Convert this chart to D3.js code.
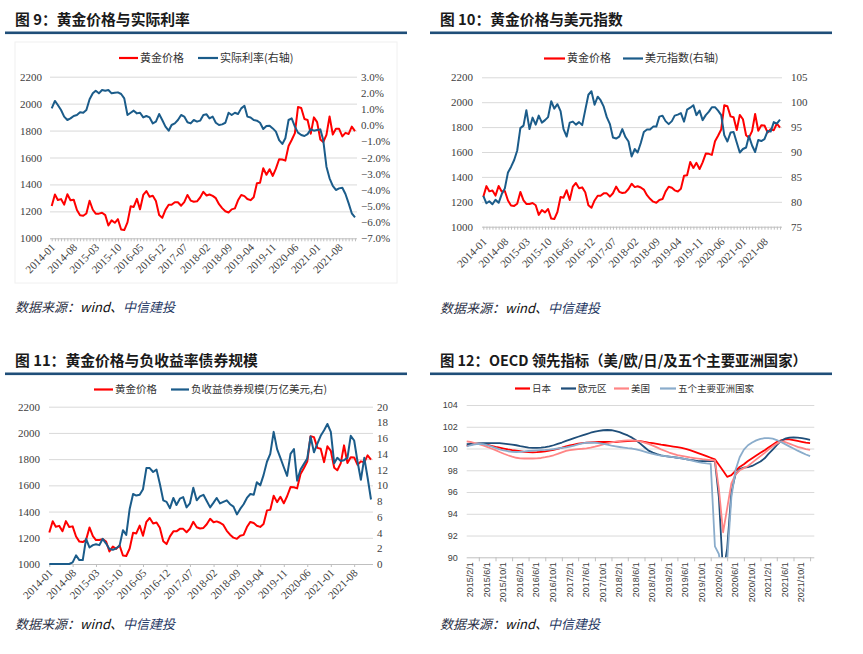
<!DOCTYPE html>
<html><head><meta charset="utf-8">
<script src="https://cdn.jsdelivr.net/npm/d3@7"></script>
<style>body{margin:0;background:#fff}svg{display:block}</style>
</head><body>
<svg id="c" width="863" height="654"></svg>
<script>
// ---------------- DATA ----------------
const monthTicks = ["2014-01","2014-08","2015-03","2015-10","2016-05","2016-12","2017-07","2018-02","2018-09","2019-04","2019-11","2020-06","2021-01","2021-08"];
const leftTicks = [1000,1200,1400,1600,1800,2000,2200];
const rateTicks = [-7,-6,-5,-4,-3,-2,-1,0,1,2,3];
const dxyTicks = [75,80,85,90,95,100,105];
const debtTicks = [0,2,4,6,8,10,12,14,16,18,20];
const oecdTicks = ["2015/2/1","2015/6/1","2015/10/1","2016/2/1","2016/6/1","2016/10/1","2017/2/1","2017/6/1","2017/10/1","2018/2/1","2018/6/1","2018/10/1","2019/2/1","2019/6/1","2019/10/1","2020/2/1","2020/6/1","2020/10/1","2021/2/1","2021/6/1","2021/10/1"];
const oecdYTicks = [90,92,94,96,98,100,102,104];

// monthly, 2014-01 .. 2022-01
const gold = [
1240,1326,1284,1291,1250,1327,1282,1287,1210,1171,1167,1184,
1279,1212,1183,1183,1190,1172,1095,1133,1115,1142,1065,1061,
1118,1238,1233,1293,1215,1322,1351,1309,1316,1277,1173,1152,
1211,1249,1249,1268,1268,1242,1269,1322,1280,1271,1275,1303,
1345,1318,1325,1315,1298,1253,1224,1201,1192,1215,1222,1282,
1321,1313,1292,1283,1305,1409,1413,1520,1472,1513,1463,1517,
1587,1585,1577,1686,1730,1781,1975,1968,1886,1879,1777,1898,
1863,1734,1715,1768,1905,1771,1814,1813,1757,1783,1775,1829,
1796];
const realRate = [
1.04,1.5,1.25,0.94,0.53,0.32,0.42,0.57,0.63,0.8,0.77,0.94,
1.6,1.97,2.13,1.97,2.18,2.13,2.18,1.97,2.0,2.03,1.93,1.66,
0.63,0.77,0.9,0.73,0.77,0.48,0.57,0.48,0.11,0.22,0.69,0.32,
-0.09,-0.34,0.01,0.11,0.32,0.63,0.53,0.18,0.11,0.32,0.22,0.28,
0.63,0.67,0.42,0.53,0.15,0.01,0.05,0.15,0.77,0.63,0.77,0.69,
1.04,1.2,0.53,0.48,0.32,0.28,0.15,-0.24,-0.05,-0.03,-0.2,-0.4,
-0.92,-1.16,-0.81,0.32,0.42,-0.09,-0.46,-0.61,-0.67,-0.55,-0.26,-0.34,
-0.3,-0.26,-0.92,-2.57,-3.29,-3.76,-4.01,-3.91,-3.87,-4.26,-4.84,-5.45,
-5.7];
const dxy = [
81.2,79.7,80.1,79.5,80.4,79.8,81.5,82.7,85.9,87.0,88.4,90.3,
94.8,95.3,98.4,94.6,96.9,95.5,97.3,95.9,96.4,97.0,100.2,98.7,
99.6,98.2,94.6,93.1,95.9,96.1,95.5,96.0,95.4,98.4,101.5,102.2,
99.5,101.1,100.4,99.1,97.0,95.6,92.9,92.7,93.1,94.6,93.0,92.1,
89.1,90.6,89.9,91.8,94.0,94.5,94.5,95.1,95.1,97.1,97.3,96.2,
95.6,96.2,97.3,97.5,97.8,96.1,98.5,98.9,99.4,97.4,98.3,96.4,
97.4,98.1,99.0,99.0,98.3,97.4,93.4,92.1,93.9,94.0,91.9,89.9,
90.6,90.9,93.2,91.3,90.0,92.4,92.2,92.6,94.2,94.1,96.0,95.7,
96.5];
const negDebt = [
0,0,0,0,0,0,0,0.2,1.1,0.5,0.5,3.2,
2.1,2.4,2.5,2.4,3.2,2.6,1.9,1.8,2.0,2.3,4.3,3.7,
7.0,8.9,8.7,8.8,9.5,12.2,12.2,11.7,12.0,10.2,8.1,7.9,
7.1,8.4,7.5,8.3,8.5,7.2,7.7,9.7,8.1,8.6,8.8,8.0,
7.2,7.8,8.4,7.7,7.9,8.1,7.6,7.3,6.3,7.0,7.6,8.4,
8.9,8.8,10.4,10.0,11.3,13.0,14.0,16.8,14.6,13.5,12.3,11.2,
14.0,14.6,10.6,12.0,12.7,13.4,16.2,14.2,15.3,16.3,17.0,17.8,
16.8,12.8,13.5,13.1,13.2,13.5,16.3,15.7,13.0,10.7,13.5,11.0,
8.2];

// monthly, 2015-02 .. 2022-01
const japan = [
100.25,100.35,100.42,100.45,100.42,100.35,100.25,100.15,100.08,100.0,99.92,99.85,
99.8,99.75,99.7,99.67,99.65,99.66,99.7,99.74,99.8,99.88,99.97,100.08,
100.2,100.28,100.36,100.44,100.5,100.54,100.57,100.59,100.6,100.6,100.6,100.6,
100.6,100.63,100.66,100.68,100.7,100.7,100.68,100.62,100.55,100.5,100.43,100.36,
100.3,100.24,100.18,100.12,100.05,99.96,99.85,99.72,99.58,99.44,99.3,99.15,
99.0,98.5,97.95,97.4,97.55,97.95,98.3,98.55,98.85,99.1,99.35,99.6,
99.85,100.1,100.35,100.6,100.75,100.85,100.85,100.78,100.7,100.62,100.55,100.5];
const euro = [
100.4,100.42,100.45,100.48,100.5,100.5,100.5,100.5,100.5,100.45,100.4,100.35,
100.3,100.22,100.15,100.08,100.05,100.05,100.08,100.13,100.2,100.3,100.42,100.55,
100.7,100.82,100.95,101.08,101.2,101.32,101.45,101.55,101.62,101.68,101.7,101.68,
101.6,101.5,101.35,101.2,101.0,100.75,100.45,100.12,99.8,99.62,99.48,99.38,
99.3,99.25,99.2,99.15,99.1,99.02,98.95,98.9,98.85,98.85,98.85,98.85,
98.85,95.5,88.5,90.8,96.0,97.6,98.1,98.25,98.3,98.4,98.6,98.8,
99.1,99.5,99.9,100.3,100.7,100.9,101.0,101.02,101.0,100.95,100.88,100.8];
const us = [
100.65,100.6,100.5,100.4,100.28,100.15,100.0,99.85,99.68,99.52,99.38,99.25,
99.15,99.1,99.08,99.08,99.08,99.1,99.13,99.2,99.28,99.38,99.5,99.65,
99.78,99.85,99.9,99.95,99.98,100.02,100.08,100.17,100.27,100.38,100.48,100.57,
100.63,100.68,100.72,100.74,100.75,100.72,100.65,100.55,100.42,100.27,100.1,99.92,
99.77,99.63,99.5,99.4,99.32,99.25,99.18,99.12,99.07,99.02,98.98,98.94,
98.9,96.3,92.3,94.5,96.8,97.6,98.0,98.2,98.4,98.7,99.0,99.3,
99.6,99.9,100.2,100.45,100.65,100.6,100.45,100.3,100.15,100.05,99.95,99.87];
const asia = [
100.2,100.3,100.38,100.42,100.4,100.32,100.2,100.05,99.92,99.82,99.75,99.7,
99.68,99.7,99.73,99.77,99.8,99.83,99.85,99.87,99.9,99.95,100.0,100.05,
100.1,100.18,100.27,100.38,100.48,100.53,100.55,100.53,100.5,100.42,100.35,100.27,
100.2,100.14,100.08,100.03,100.0,99.93,99.83,99.72,99.6,99.5,99.42,99.35,
99.3,99.25,99.2,99.15,99.1,99.02,98.93,98.83,98.75,98.68,98.63,98.6,
91.0,90.3,87.5,89.7,95.5,98.0,99.2,99.9,100.3,100.55,100.75,100.88,
100.95,100.95,100.9,100.78,100.6,100.4,100.2,100.0,99.8,99.62,99.45,99.3];

// ---------------- DRAWING ----------------
const goldMonths = d3.timeMonth.range(new Date(2014,0,1), new Date(2022,1,1));
const oecdMonths = d3.timeMonth.range(new Date(2015,1,1), new Date(2022,1,1));
const parseM = d3.timeParse("%Y-%m");
const tickDates = monthTicks.map(parseM);

const svg = d3.select("#c");
svg.append("rect").attr("width",863).attr("height",654).attr("fill","#fff");

const SERIF = "'Liberation Serif','Times New Roman',serif";
const CJK = "'Noto Sans CJK SC','Noto Sans',sans-serif";
const SANS = "'Liberation Sans',Arial,sans-serif";
const RED = "#ff0000", BLUE = "#1b5c8a";

function title(x, y, text, targetW, lx0, lx1, ly){
  const t = svg.append("text").attr("x",x).attr("y",y).attr("font-family",CJK).attr("font-size",15)
    .attr("font-weight",700).attr("fill","#1a1a1a").text(text);
  const w = t.node().getComputedTextLength();
  if (w > 0) t.attr("font-size", Math.min(16, 15*targetW/w));
  svg.append("rect").attr("x",lx0).attr("y",ly).attr("width",lx1-lx0).attr("height",2.6).attr("fill","#1f4e79");
}
function source(x, y){
  const t = svg.append("text").attr("x",x).attr("y",y).attr("font-family",CJK).attr("font-size",13)
    .attr("font-style","italic");
  t.append("tspan").attr("fill","#2a2f45").text("数据来源：");
  t.append("tspan").attr("fill","#111").text("wind、");
  t.append("tspan").attr("fill","#1f3864").text("中信建投");
}
function legend(items, y, fs){
  items.forEach(it=>{
    svg.append("line").attr("x1",it.x).attr("x2",it.x+it.w).attr("y1",y).attr("y2",y)
      .attr("stroke",it.color).attr("stroke-width",2.2);
    svg.append("text").attr("x",it.x+it.w+2).attr("y",y).attr("dy","0.36em")
      .attr("font-family",CJK).attr("font-size",fs).attr("fill","#333").text(it.label);
  });
}

function dual(cfg){
  const g = svg.append("g");
  const x = d3.scaleTime().domain([goldMonths[0], goldMonths[goldMonths.length-1]]).range([cfg.x0,cfg.x1]);
  const yL = d3.scaleLinear().domain([1000,2200]).range([cfg.yb,cfg.yt]);
  const yR = d3.scaleLinear().domain(cfg.rDomain).range([cfg.yb,cfg.yt]);
  const grid = g.append("g").attr("transform",`translate(${cfg.gx0},0)`)
    .call(d3.axisLeft(yL).tickValues(leftTicks).tickSize(-(cfg.gx1-cfg.gx0)).tickFormat(""));
  grid.select(".domain").remove();
  grid.selectAll(".tick line").attr("stroke",d=>d===1000?"#bfbfbf":"#d9d9d9");
  const xt = g.append("g").attr("transform",`translate(0,${cfg.yb})`)
    .call(d3.axisBottom(x).tickValues(cfg.minor ? goldMonths : tickDates).tickSize(3).tickFormat(""));
  xt.select(".domain").remove();
  xt.selectAll("line").attr("stroke","#bfbfbf");
  const xl = g.append("g").attr("transform",`translate(0,${cfg.yb})`)
    .call(d3.axisBottom(x).tickValues(tickDates).tickSize(0).tickFormat((d,i)=>monthTicks[i]));
  xl.select(".domain").remove();
  xl.selectAll("text").attr("x",0).attr("y",0).attr("dy","0.35em").attr("text-anchor","end")
    .attr("transform",`translate(${cfg.tx},${cfg.ty}) rotate(-45)`)
    .attr("font-family",SERIF).attr("font-size",11).attr("fill","#404040");
  const la = g.append("g").attr("transform",`translate(${cfg.lLab},0)`)
    .call(d3.axisLeft(yL).tickValues(leftTicks).tickSize(0).tickPadding(0).tickFormat(d3.format("d")));
  la.select(".domain").remove();
  la.selectAll("text").attr("font-family",SERIF).attr("font-size",11).attr("fill","#404040");
  const ra = g.append("g").attr("transform",`translate(${cfg.rLab},0)`)
    .call(d3.axisRight(yR).tickValues(cfg.rTicks).tickSize(0).tickPadding(0).tickFormat(cfg.rFmt));
  ra.select(".domain").remove();
  ra.selectAll("text").attr("font-family",SERIF).attr("font-size",11).attr("fill","#404040");
  g.append("path").datum(gold)
    .attr("d", d3.line().x((d,i)=>x(goldMonths[i])).y(d=>yL(d)))
    .attr("fill","none").attr("stroke",RED).attr("stroke-width",2).attr("stroke-linejoin","round");
  g.append("path").datum(cfg.series)
    .attr("d", d3.line().x((d,i)=>x(goldMonths[i])).y(d=>yR(d)))
    .attr("fill","none").attr("stroke",BLUE).attr("stroke-width",2).attr("stroke-linejoin","round");
}

// Panel 1
svg.append("rect").attr("x",15).attr("y",42).attr("width",382).attr("height",241)
  .attr("fill","none").attr("stroke","#f0f0f0");
title(15, 25, "图 9：黄金价格与实际利率", 175, 5, 407, 31.5);
legend([{x:119,w:19,color:RED,label:"黄金价格"},{x:198,w:20,color:BLUE,label:"实际利率(右轴)"}], 58, 11);
dual({x0:51.7,x1:355,yt:76.7,yb:238.3,gx0:50,gx1:357,lLab:42,rLab:361,
  rDomain:[-7,3],rTicks:rateTicks,rFmt:d=>(d<0?"−":"")+Math.abs(d).toFixed(1)+"%",
  series:realRate,minor:true,tx:1,ty:7});
source(15, 312);

// Panel 2
title(440, 25, "图 10：黄金价格与美元指数", 183, 430, 832, 31.5);
legend([{x:544,w:21,color:RED,label:"黄金价格"},{x:623,w:20,color:BLUE,label:"美元指数(右轴)"}], 58.5, 11);
dual({x0:483.3,x1:780,yt:77.3,yb:226.7,gx0:482,gx1:782,lLab:473,rLab:791,
  rDomain:[75,105],rTicks:dxyTicks,rFmt:d3.format("d"),
  series:dxy,minor:true,tx:1,ty:13});
source(440, 313);

// Panel 3
title(15, 366, "图 11：黄金价格与负收益率债券规模", 243, 5, 407, 372.5);
legend([{x:94,w:19,color:RED,label:"黄金价格"},{x:171,w:18,color:BLUE,label:"负收益债券规模(万亿美元,右)"}], 389.5, 10.5);
dual({x0:49.3,x1:371,yt:406.7,yb:564,gx0:49,gx1:373,lLab:40,rLab:377,
  rDomain:[0,20],rTicks:debtTicks,rFmt:d3.format("d"),
  series:negDebt,minor:false,tx:1,ty:7});
source(15, 629);

// Panel 4
title(440, 366, "图 12：OECD 领先指标（美/欧/日/及五个主要亚洲国家）", 367, 430, 832, 372.5);
legend([{x:515,w:15,color:"#ff0000",label:"日本"},{x:561,w:15,color:"#1f4e79",label:"欧元区"},
        {x:614,w:15,color:"#ff8585",label:"美国"},{x:660,w:16,color:"#8aaccb",label:"五个主要亚洲国家"}], 388.5, 9.5);
(function(){
  const g = svg.append("g");
  const x = d3.scaleTime().domain([new Date(2015,1,1), new Date(2022,1,1)]).range([466.7,814.3]);
  const y = d3.scaleLinear().domain([90,104]).range([557.3,405]);
  const grid = g.append("g").attr("transform","translate(466.7,0)")
    .call(d3.axisLeft(y).tickValues(oecdYTicks).tickSize(-(814.3-466.7)).tickFormat(""));
  grid.select(".domain").remove();
  grid.selectAll(".tick line").attr("stroke",d=>d===90?"#bfbfbf":"#d9d9d9");
  const tks = d3.timeMonth.every(4).range(new Date(2015,1,1), new Date(2022,1,2));
  const xt = g.append("g").attr("transform","translate(0,557.3)")
    .call(d3.axisBottom(x).tickValues(tks).tickSize(4).tickFormat(""));
  xt.select(".domain").remove();
  xt.selectAll("line").attr("stroke","#bfbfbf");
  const lblDates = oecdTicks.map(d3.timeParse("%Y/%m/%d"));
  const xl = g.append("g").attr("transform","translate(0,557.3)")
    .call(d3.axisBottom(x).tickValues(lblDates).tickSize(0).tickFormat((d,i)=>oecdTicks[i]));
  xl.select(".domain").remove();
  xl.selectAll("text").attr("x",0).attr("y",0).attr("dy","0.35em").attr("text-anchor","end")
    .attr("transform","translate(3,5) rotate(-90)")
    .attr("font-family",SANS).attr("font-size",9).attr("fill","#404040");
  const la = g.append("g").attr("transform","translate(457.7,0)")
    .call(d3.axisLeft(y).tickValues(oecdYTicks).tickSize(0).tickPadding(0));
  la.select(".domain").remove();
  la.selectAll("text").attr("font-family",SANS).attr("font-size",9).attr("fill","#404040");
  svg.append("clipPath").attr("id","clip4").append("rect")
    .attr("x",460).attr("y",395).attr("width",360).attr("height",557.3-395);
  const lg = g.append("g").attr("clip-path","url(#clip4)");
  const line = d3.line().x((d,i)=>x(oecdMonths[i])).y(d=>y(d));
  [[japan,"#ff0000"],[euro,"#1f4e79"],[us,"#ff8585"],[asia,"#8aaccb"]].forEach(([s,c])=>{
    lg.append("path").datum(s).attr("d",line).attr("fill","none").attr("stroke",c)
      .attr("stroke-width",1.8).attr("stroke-linejoin","round");
  });
})();
source(440, 629);
</script>
</body></html>
